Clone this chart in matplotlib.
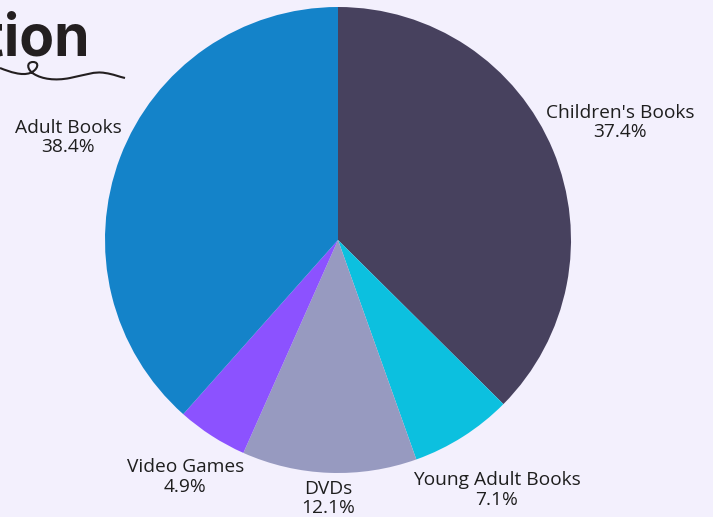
import numpy as np
import matplotlib
matplotlib.use("Agg")
import matplotlib.pyplot as plt
from matplotlib.path import Path
from matplotlib.patches import PathPatch

categories = ["Children's Books", "Young Adult Books", "DVDs", "Video Games", "Adult Books"]
shares = [37.4, 7.1, 12.1, 4.9, 38.4]
colors = ["#47415e", "#0cc0df", "#979ac0", "#8c52ff", "#1483c9"]
label_radius = [1.31, 1.27, 1.11, 1.21, 1.24]

W, H = 713, 517
cx, cy, r = 338, 240, 233
bg = "#f3f0fd"

fig = plt.figure(figsize=(W / 100, H / 100), dpi=100, facecolor=bg)
ax = fig.add_axes([0, 0, 1, 1])
ax.set_facecolor(bg)

wedges, _ = ax.pie(shares, colors=colors, startangle=90, counterclock=False,
                   radius=1, wedgeprops=dict(linewidth=0))

for w, name, val, lr in zip(wedges, categories, shares, label_radius):
    mid = np.deg2rad((w.theta1 + w.theta2) / 2)
    ax.text(lr * np.cos(mid), lr * np.sin(mid), f"{name}\n{val}%",
            ha="center", va="center", fontsize=13.8, color="#1e1e1e",
            family="Open Sans", linespacing=1.12)

ax.set_xlim(-cx / r, (W - cx) / r)
ax.set_ylim(-(H - cy) / r, cy / r)
ax.set_aspect("equal")
ax.axis("off")

# cropped title in the corner
fig.text(90 / W, 1 - 55 / H, "Collection", ha="right", va="baseline",
         fontsize=41, fontweight="bold", family="Inter", color="#231f20")

# squiggle under title
pts = [(0, 68), (10, 72), (22, 76), (30, 73),
       (38, 70), (40, 62), (33, 62),
       (26, 62), (27, 70), (34, 74),
       (42, 79), (55, 81), (70, 78),
       (85, 75), (95, 71), (105, 73),
       (113, 74), (120, 77), (125, 78)]
codes = [Path.MOVETO] + [Path.CURVE4] * (len(pts) - 1)
verts = [(x / W, 1 - y / H) for x, y in pts]
fig.patches.append(PathPatch(Path(verts, codes), transform=fig.transFigure,
                             fill=False, edgecolor="#231f20", linewidth=1.5))

fig.savefig("out.png", dpi=100, facecolor=bg)
